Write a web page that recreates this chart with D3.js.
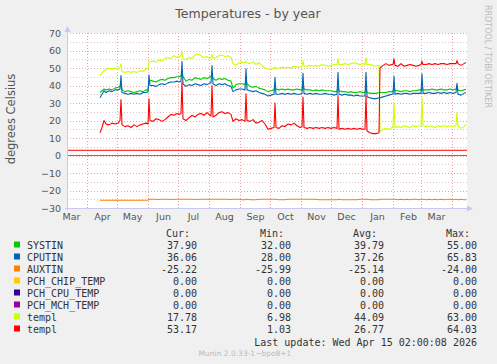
<!DOCTYPE html>
<html>
<head>
<meta charset="utf-8">
<script src="https://cdn.jsdelivr.net/npm/d3@7"></script>
<style>
  html, body { margin: 0; padding: 0; background: #f0f0f0; }
  svg { display: block; }
  text { font-family: "DejaVu Sans", sans-serif; }
  .mono { font-family: "DejaVu Sans Mono", monospace; }
</style>
</head>
<body>
<svg id="chart" width="497" height="364"></svg>
<script>
"use strict";

// sample dates, one chunk per month (same length in every series)
const days = [
  "2025-04-14", "2025-04-16", "2025-04-18", "2025-04-20", "2025-04-23", "2025-04-26", "2025-04-29", "2025-05-02", "2025-05-04", "2025-05-05", "2025-05-06",
  "2025-05-09", "2025-05-12", "2025-05-15", "2025-05-18", "2025-05-21", "2025-05-24", "2025-05-27", "2025-05-30", "2025-06-01", "2025-06-02", "2025-06-03",
  "2025-06-06", "2025-06-09", "2025-06-12", "2025-06-15", "2025-06-18", "2025-06-21", "2025-06-24", "2025-06-27", "2025-06-30", "2025-07-02", "2025-07-04", "2025-07-05", "2025-07-06",
  "2025-07-09", "2025-07-12", "2025-07-15", "2025-07-18", "2025-07-21", "2025-07-24", "2025-07-27", "2025-07-30", "2025-08-02", "2025-08-03", "2025-08-04", "2025-08-05",
  "2025-08-08", "2025-08-11", "2025-08-14", "2025-08-17", "2025-08-20", "2025-08-23", "2025-08-25", "2025-08-28", "2025-08-31", "2025-09-03", "2025-09-06", "2025-09-07", "2025-09-08",
  "2025-09-11", "2025-09-14", "2025-09-17", "2025-09-20", "2025-09-23", "2025-09-26", "2025-09-29", "2025-10-02", "2025-10-05", "2025-10-06", "2025-10-07",
  "2025-10-10", "2025-10-13", "2025-10-16", "2025-10-19", "2025-10-22", "2025-10-25", "2025-10-28", "2025-10-31", "2025-11-02", "2025-11-03", "2025-11-04",
  "2025-11-07", "2025-11-10", "2025-11-13", "2025-11-16", "2025-11-19", "2025-11-22", "2025-11-25", "2025-11-28", "2025-12-01", "2025-12-04", "2025-12-07", "2025-12-08", "2025-12-09",
  "2025-12-12", "2025-12-15", "2025-12-18", "2025-12-21", "2025-12-24", "2025-12-27", "2025-12-30", "2026-01-02", "2026-01-04", "2026-01-05", "2026-01-06",
  "2026-01-09", "2026-01-12", "2026-01-15", "2026-01-18", "2026-01-19", "2026-01-22", "2026-01-25", "2026-01-28", "2026-01-31", "2026-02-01", "2026-02-02", "2026-02-03",
  "2026-02-06", "2026-02-09", "2026-02-12", "2026-02-15", "2026-02-18", "2026-02-21", "2026-02-24", "2026-02-27", "2026-03-01", "2026-03-02", "2026-03-03",
  "2026-03-06", "2026-03-09", "2026-03-12", "2026-03-15", "2026-03-18", "2026-03-21", "2026-03-24", "2026-03-27", "2026-03-30", "2026-04-02", "2026-04-05", "2026-04-06", "2026-04-07", "2026-04-10", "2026-04-13", "2026-04-15",
];

const systin = [
  36, 37, 38, 37.5, 38, 37.5, 38.5, 39, 39.5, 41, 37.5,
  36.5, 37, 36.5, 36, 36.5, 37, 36.5, 37.5, 37.5, 42, 43,
  42.5, 42, 43, 43.5, 43, 44, 44.5, 44.5, 45, 45, 45.5, 48, 45,
  42.5, 43.5, 43, 44.5, 44, 43.5, 44.5, 44, 45, 45, 47, 44,
  43, 44, 43.5, 44, 43, 42.5, 38.5, 40.5, 41, 41, 40.5, 43, 41,
  39.5, 39, 39.5, 38.5, 38, 37.5, 36.5, 37, 37.5, 39, 38,
  37.5, 38, 37.5, 38, 37.5, 37.5, 38, 37.5, 37.5, 40, 38,
  37.5, 37.5, 37, 37.5, 37, 37.5, 37, 37, 37, 36.5, 36.5, 39.5, 37,
  36.5, 36.5, 36, 36.5, 36, 36, 36.5, 36, 36, 39, 36,
  35.5, 35.5, 35.5, 36, 36, 36, 36, 36.5, 36.5, 36.5, 38.5, 37,
  37, 36.5, 37, 37, 36.5, 37, 37, 37.5, 37.5, 39, 37.5,
  37.5, 37.5, 38, 37.5, 37.5, 38, 37.5, 37.5, 38, 37.5, 38, 40, 37.5, 37, 37.5, 37.9,
];

const cputin = [
  33, 35, 37, 36, 37, 36.5, 37.5, 37.5, 38, 45.7, 36,
  35.5, 35, 35.5, 35, 35.5, 35, 36, 36, 36.5, 46, 40,
  40, 39.5, 40.5, 41, 40.5, 41.5, 42, 42, 42.5, 42, 42.5, 53.7, 41,
  39.5, 40.5, 40, 41, 40.5, 40, 41, 40.5, 41.5, 41.5, 51.4, 41,
  40, 41, 40.5, 41, 40, 39.5, 36.5, 37.5, 38, 38, 37.5, 49.5, 37.5,
  37, 36.5, 37, 36, 35.5, 35, 34, 34.5, 35, 44.7, 35,
  35, 35.5, 35, 35.5, 35, 35.5, 35, 35, 35.5, 47, 35.5,
  35, 35.5, 35, 35.5, 35, 35, 35.5, 35, 35, 34.5, 35, 47.6, 35,
  34.5, 35, 34.5, 34.5, 34, 34.5, 34, 34, 34, 47.5, 33.5,
  33, 32.5, 32.5, 33, 33, 33.5, 34, 34.5, 35, 35, 45.3, 35,
  35.5, 35, 35.5, 35.5, 35, 35.5, 35.5, 35.5, 35.5, 46.7, 35.5,
  35.5, 36, 35.5, 35.5, 36, 35.5, 36, 35.5, 36, 35.5, 36, 41.3, 35, 34.5, 35.5, 36.06,
];

const auxtin = [
  -25.6, -25.6, -25.6, -25.6, -25.6, -25.6, -25.6, -25.6, -25.6, -25.6, -25.6,
  -25.6, -25.6, -25.6, -25.6, -25.6, -25.6, -25.6, -25.6, -25.5, -25, -25,
  -25, -25, -25.1, -25, -25, -25, -25.1, -25, -25, -25, -25, -25, -25,
  -25, -25, -25, -25.1, -25, -25, -25, -25, -25, -25, -25, -25,
  -25, -25, -25, -25, -25, -25.1, -25, -25, -25, -25.3, -25.3, -25, -25,
  -25.3, -25.3, -25.3, -25, -25, -25, -25, -25, -25, -25, -25,
  -25.3, -25.3, -25.3, -25, -25, -25, -25, -25, -25, -25, -25,
  -25, -25, -25, -25, -25.3, -25.3, -25.3, -25.3, -25.3, -25.3, -25.3, -25, -25,
  -25.3, -25.3, -25.3, -25.3, -25.3, -25.3, -25, -25, -25, -25, -25,
  -25.3, -25.3, -25.3, -25.3, -25, -25, -25, -25, -25, -25, -25, -25,
  -25.3, -25, -25.3, -25, -25.3, -25, -25, -25.3, -25, -25, -25,
  -25.3, -25, -25.3, -25, -25.3, -25, -25.3, -25, -25, -25.3, -25, -25, -25.3, -25, -25.3, -25.22,
];

const templA = [
  46, 47, 48.5, 49, 50, 49.5, 50, 49.5, 50.5, 52.4, 48,
  47.5, 48, 47.5, 48, 47.5, 48.5, 48, 49.5, 50, 53.3, 53.5,
  54, 53.5, 54.5, 54, 55.5, 56, 55.5, 57, 56, 56.5, 57, 59.5, 55,
  55, 56, 55.5, 57.5, 58, 57, 56, 56.5, 55.5, 56, 57.7, 55.5,
  56, 57, 57.5, 56.5, 57, 56, 52.5, 51.5, 53, 53.5, 53, 54, 53,
  52.5, 53.5, 52, 53, 51.5, 50, 49.5, 49, 50, 50.5, 49.5,
  50, 50.5, 50, 50.5, 50, 51, 50.5, 50.5, 51, 54.2, 51,
  51, 51.5, 51, 51.5, 51, 52, 51.5, 51, 51.5, 52, 52, 55.2, 52,
  52, 52.5, 52, 52.5, 53, 52.5, 52, 52.5, 52, 55.8, 52,
  52, 51.5, 51, 51.5, 13.5, 15, 15.5, 15, 16, 16, 30, 16,
  16.5, 16, 17, 16.5, 16, 17, 16.5, 17, 17, 33, 17,
  16.5, 17, 16.5, 16, 17, 16.5, 17, 16.5, 17, 16.5, 17, 24.5, 17, 15.5, 16.5, 17.78,
];

const templB = [
  13, 16, 20, 18, 17.5, 18.5, 18, 18.5, 20, 32, 17.5,
  16.5, 17, 16, 17.5, 16.5, 17.5, 18, 18.5, 18, 32.4, 20,
  19.5, 21, 20.5, 19.5, 20.5, 22, 23.5, 23, 24, 23.5, 24, 42, 21,
  20, 21.5, 23, 22, 23.5, 24, 23, 24.5, 23, 22.5, 40, 22,
  23, 24.5, 25, 24, 24.5, 23.5, 19.5, 21, 20, 20.5, 19.5, 35.3, 20,
  19.5, 20.5, 18.5, 19, 20, 18, 15, 15.5, 16, 30, 16,
  15.5, 17, 16.5, 18, 17.5, 18.5, 17, 16, 16.5, 33.4, 16,
  15.5, 16, 15.5, 16, 15.5, 16, 15.5, 16, 15.5, 16, 15.5, 34.3, 15,
  15.5, 15, 15.5, 15, 15.5, 15, 15.5, 15, 15, 34, 14,
  13, 12.5, 12.5, 13, 50, 51.5, 52.5, 51.5, 52, 52, 55.2, 51.5,
  51, 52.5, 51, 51.5, 52, 51.5, 51, 51.5, 52, 53.8, 52,
  52, 52.5, 52, 52.5, 52, 52.5, 52.5, 52, 52.5, 52.5, 52.5, 54.2, 52.5, 51.5, 52.5, 53.17,
];

// horizontal rules across the whole graph
const ruleValues = [0, 3];
const ruleColors = ["#00cc00", "#ff0000"];

const yTicks = [70, 60, 50, 40, 30, 20, 10, 0, -10, -20, -30];

const legendNames = ["SYSTIN", "CPUTIN", "AUXTIN", "PCH_CHIP_TEMP", "PCH_CPU_TEMP", "PCH_MCH_TEMP", "templ", "templ"];
const legendColors = ["#00cc00", "#0066b3", "#ff8000", "#ffcc00", "#330099", "#990099", "#ccff00", "#ff0000"];
const curVals = ["37.90", "36.06", "-25.22", "0.00", "0.00", "0.00", "17.78", "53.17"];
const minVals = ["32.00", "28.00", "-25.99", "0.00", "0.00", "0.00", "6.98", "1.03"];
const avgVals = ["39.79", "37.26", "-25.14", "0.00", "0.00", "0.00", "44.09", "26.77"];
const maxVals = ["55.00", "65.83", "-24.00", "0.00", "0.00", "0.00", "63.00", "64.03"];

const parseDay = d3.timeParse("%Y-%m-%d");

function draw() {
  const svg = d3.select("#chart");
  const left = 67, right = 467, top = 33, bottom = 208;

  const x = d3.scaleTime()
    .domain([new Date(2025, 2, 12), new Date(2026, 3, 16)])
    .range([left, right]);
  const y = d3.scaleLinear().domain([-30, 70]).range([bottom, top]);

  svg.append("rect").attr("width", 497).attr("height", 364).attr("fill", "#f0f0f0");
  svg.append("rect")
    .attr("x", left).attr("y", top)
    .attr("width", right - left).attr("height", bottom - top)
    .attr("fill", "#fff");

  // grid
  svg.append("g").selectAll("line")
    .data(d3.range(-25, 71, 5))
    .enter().append("line")
    .attr("x1", left).attr("x2", right)
    .attr("y1", (d) => Math.round(y(d)) + 0.5)
    .attr("y2", (d) => Math.round(y(d)) + 0.5)
    .attr("stroke", (d) => (d % 10 === 0 ? "#e6a8a8" : "#e4c4c4"))
    .attr("stroke-dasharray", "1,2");

  svg.append("g").selectAll("line")
    .data(d3.timeMonth.range(new Date(2025, 3, 1), new Date(2026, 3, 16)))
    .enter().append("line")
    .attr("x1", (d) => Math.round(x(d)) + 0.5)
    .attr("x2", (d) => Math.round(x(d)) + 0.5)
    .attr("y1", top).attr("y2", bottom)
    .attr("stroke", "#f0a0a0")
    .attr("stroke-dasharray", "1,2");

  svg.append("defs").append("clipPath").attr("id", "clip")
    .append("rect").attr("x", left).attr("y", top)
    .attr("width", right - left).attr("height", bottom - top);

  const plot = svg.append("g").attr("clip-path", "url(#clip)");

  plot.selectAll("line.rule")
    .data(ruleValues)
    .enter().append("line")
    .attr("class", "rule")
    .attr("x1", left).attr("x2", right)
    .attr("y1", (d) => y(d)).attr("y2", (d) => y(d))
    .attr("stroke", (d, i) => ruleColors[i])
    .attr("stroke-width", 1);

  const line = d3.line()
    .x((d) => x(d.date))
    .y((d) => y(d.v));

  const series = [
    [systin, "#00cc00"],
    [cputin, "#0066b3"],
    [auxtin, "#ff8000"],
    [templA, "#ccff00"],
    [templB, "#ff0000"],
  ];

  series.forEach(([vals, color]) => {
    const pts = days.map((d, i) => ({ date: parseDay(d), v: vals[i] }));
    plot.append("path")
      .datum(pts)
      .attr("fill", "none")
      .attr("stroke", color)
      .attr("stroke-width", 1.1)
      .attr("stroke-linejoin", "round")
      .attr("d", line);
  });

  // axis lines with arrows
  const axisColor = "#c8c8f0";
  svg.append("line")
    .attr("x1", left + 0.5).attr("x2", left + 0.5)
    .attr("y1", bottom + 2).attr("y2", top - 4)
    .attr("stroke", axisColor);
  svg.append("path")
    .attr("d", `M${left + 0.5},${top - 7} L${left - 2.5},${top - 1} L${left + 3.5},${top - 1} Z`)
    .attr("fill", axisColor);
  svg.append("line")
    .attr("x1", left - 2).attr("x2", right + 3)
    .attr("y1", bottom + 0.5).attr("y2", bottom + 0.5)
    .attr("stroke", axisColor);
  svg.append("path")
    .attr("d", `M${right + 6},${bottom + 0.5} L${right},${bottom - 2.5} L${right},${bottom + 3.5} Z`)
    .attr("fill", axisColor);

  // tick labels
  const yAxis = svg.append("g")
    .attr("transform", `translate(${left},0)`)
    .call(d3.axisLeft(y).tickValues(yTicks).tickSize(0).tickPadding(6));
  yAxis.select(".domain").remove();
  yAxis.selectAll("text")
    .attr("font-family", "DejaVu Sans")
    .attr("font-size", "9.5px")
    .attr("fill", "#555");

  const monthMids = d3.timeMonth
    .range(new Date(2025, 2, 1), new Date(2026, 3, 1))
    .map((d) => new Date(d.getFullYear(), d.getMonth(), 16));
  const xAxis = svg.append("g")
    .attr("transform", `translate(0,${bottom})`)
    .call(d3.axisBottom(x).tickValues(monthMids)
      .tickFormat(d3.timeFormat("%b")).tickSize(0).tickPadding(5));
  xAxis.select(".domain").remove();
  xAxis.selectAll("text")
    .attr("font-family", "DejaVu Sans")
    .attr("font-size", "9.5px")
    .attr("fill", "#555");

  // titles
  svg.append("text")
    .attr("x", 248).attr("y", 18)
    .attr("text-anchor", "middle")
    .attr("font-size", "12.5px")
    .attr("fill", "#555")
    .text("Temperatures - by year");

  svg.append("text")
    .attr("transform", "translate(15,119) rotate(-90)")
    .attr("text-anchor", "middle")
    .attr("font-size", "11.5px")
    .attr("fill", "#555")
    .text("degrees Celsius");

  svg.append("text")
    .attr("transform", "translate(485,5) rotate(90)")
    .attr("font-size", "8px")
    .attr("fill", "#bbb")
    .text("RRDTOOL / TOBI OETIKER");

  drawLegend(svg);

  svg.append("text")
    .attr("x", 245).attr("y", 355.5)
    .attr("text-anchor", "middle")
    .attr("font-size", "7.5px")
    .attr("fill", "#bbb")
    .text("Munin 2.0.33-1~bpo8+1");
}

function drawLegend(svg) {
  const rowY = (i) => 248.5 + i * 12;
  const cols = [
    ["Cur:", curVals, 197],
    ["Min:", minVals, 291],
    ["Avg:", avgVals, 384],
    ["Max:", maxVals, 477],
  ];
  const legend = svg.append("g").attr("id", "legend");

  legend.selectAll("rect")
    .data(legendColors)
    .enter().append("rect")
    .attr("x", 14).attr("y", (_, i) => rowY(i) - 7)
    .attr("width", 6).attr("height", 6)
    .attr("fill", (d) => d);

  legend.selectAll("text.name")
    .data(legendNames)
    .enter().append("text")
    .attr("class", "name mono")
    .attr("x", 27).attr("y", (_, i) => rowY(i))
    .attr("font-size", "10px")
    .attr("fill", "#333")
    .text((d) => d);

  cols.forEach(([head, vals, xr]) => {
    legend.append("text")
      .attr("class", "mono")
      .attr("x", xr - 7).attr("y", 237)
      .attr("text-anchor", "end")
      .attr("font-size", "10px")
      .attr("fill", "#333")
      .text(head);
    vals.forEach((v, i) => {
      legend.append("text")
        .attr("class", "mono")
        .attr("x", xr).attr("y", rowY(i))
        .attr("text-anchor", "end")
        .attr("font-size", "10px")
        .attr("fill", "#333")
        .text(v);
    });
  });

  legend.append("text")
    .attr("class", "mono")
    .attr("x", 477).attr("y", 345.5)
    .attr("text-anchor", "end")
    .attr("font-size", "10px")
    .attr("fill", "#333")
    .text("Last update: Wed Apr 15 02:00:08 2026");
}

draw();
</script>
</body>
</html>
